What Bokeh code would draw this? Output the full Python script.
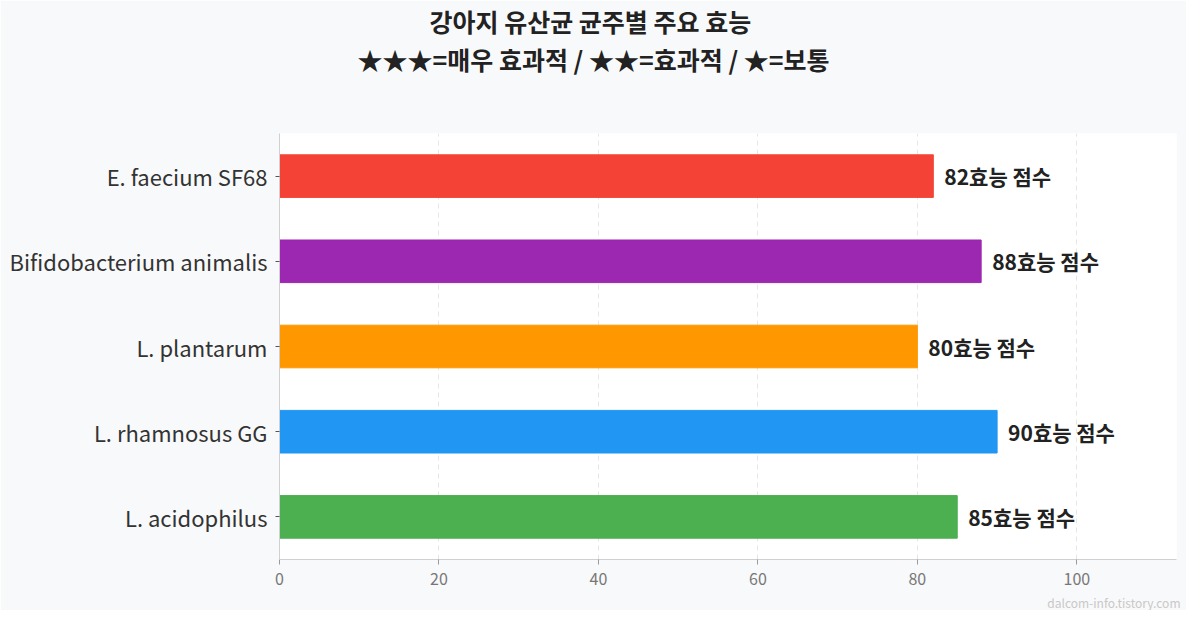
from bokeh.plotting import figure
from bokeh.models import ColumnDataSource, Title, FixedTicker
from bokeh.core.properties import value
from bokeh.embed import file_html
from bokeh.resources import INLINE

strains = ["L. acidophilus", "L. rhamnosus GG", "L. plantarum", "Bifidobacterium animalis", "E. faecium SF68"]
scores = [85, 90, 80, 88, 82]
colors = ["#4CAF50", "#2196F3", "#FF9800", "#9C27B0", "#F44336"]
labels = [f"{s}효능 점수" for s in scores]

font = "Noto Sans CJK KR"

src = ColumnDataSource(dict(strain=strains, score=scores, color=colors, label=labels))

p = figure(y_range=strains, x_range=(0, 112.5), width=1186, height=610,
	output_backend="svg", toolbar_location=None,
	min_border_left=279, min_border_right=10, min_border_top=0, min_border_bottom=0)
p.background_fill_color = "white"
p.border_fill_color = "#f8f9fa"
p.outline_line_color = None

p.hbar(y="strain", right="score", left=0, height=0.5, color="color", source=src)
p.text(x="score", y="strain", text="label", source=src, x_offset=11,
	text_font=value(font), text_font_style="bold", text_font_size="21px",
	text_color="#222222", text_baseline="middle", text_align="left")

p.y_range.range_padding = 0.0

p.xaxis.ticker = FixedTicker(ticks=[0, 20, 40, 60, 80, 100])
p.xaxis.major_label_text_font = font
p.xaxis.major_label_text_font_size = "16px"
p.xaxis.major_label_text_color = "#777777"
p.xaxis.axis_line_color = "#d0d0d0"
p.xaxis.major_tick_line_color = "#999999"
p.xaxis.major_tick_out = 5
p.xaxis.major_tick_in = 0
p.xaxis.major_label_standoff = 8
p.xaxis.minor_tick_line_color = None

p.yaxis.major_label_text_font = font
p.yaxis.major_label_text_font_size = "22px"
p.yaxis.major_label_text_color = "#333333"
p.yaxis.axis_line_color = "#d0d0d0"
p.yaxis.major_tick_line_color = "#555555"
p.yaxis.major_tick_out = 4
p.yaxis.major_tick_in = 0
p.yaxis.major_label_standoff = 8

p.ygrid.grid_line_color = None
p.xgrid.grid_line_color = "#e6e6e6"
p.xgrid.grid_line_dash = "5 4"

# small spacer between the x axis and the watermark
p.add_layout(Title(text=" ", text_font_size="1px", standoff=1), "below")
p.add_layout(Title(text="dalcom-info.tistory.com", align="right", text_font=font,
	text_font_size="12px", text_color="#c8c8c8", text_font_style="normal",
	offset=-4, standoff=0), "below")
# spacer between the titles and the plot frame
p.add_layout(Title(text=" ", text_font_size="20px", standoff=33), "above")
p.add_layout(Title(text="★★★=매우 효과적 / ★★=효과적 / ★=보통", align="left",
	text_font=font, text_font_size="25px", text_color="#222222", text_font_style="bold",
	offset=78, standoff=0), "above")
p.add_layout(Title(text="강아지 유산균 균주별 주요 효능", align="left",
	text_font=font, text_font_size="25px", text_color="#222222", text_font_style="bold",
	offset=150, standoff=0), "above")

html = file_html(p, INLINE)
html = html.replace("<body>", '<body style="background:#f8f9fa">', 1)
open("out.html", "w").write(html)
